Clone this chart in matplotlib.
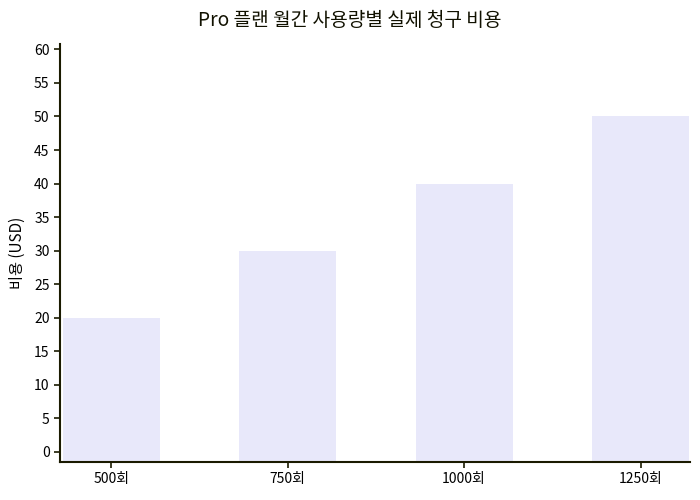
import matplotlib
matplotlib.use("Agg")
import matplotlib.pyplot as plt

plt.rcParams['font.family'] = ['Noto Sans CJK KR', 'DejaVu Sans']

categories = ["500회", "750회", "1000회", "1250회"]
values = [20, 30, 40, 50]
yticks = list(range(0, 61, 5))

ymin, ymax = -1.5, 60.8
fig = plt.figure(figsize=(7, 5), dpi=100)
ax = fig.add_axes([60/700, 1-462/500, 630/700, (462-44)/500])
x = list(range(len(categories)))
ax.bar(x, [v - ymin for v in values], bottom=ymin, width=0.55, color="#E8E8FA")
ax.set_xticks(x)
ax.set_xticklabels(categories, fontsize=10)
ax.set_yticks(yticks)
ax.tick_params(axis='y', labelsize=10)
ax.set_ylim(ymin, ymax)
ax.set_xlim(-0.29, 3.28)
for s in ["top", "right"]:
    ax.spines[s].set_visible(False)
for s in ["left", "bottom"]:
    ax.spines[s].set_color("#1a1a00")
    ax.spines[s].set_linewidth(1.5)
ax.tick_params(colors="#1a1a00", width=1.2, length=4)
ax.tick_params(labelcolor="black")
ax.set_ylabel("비용 (USD)", fontsize=11, labelpad=6)
fig.suptitle("Pro 플랜 월간 사용량별 실제 청구 비용", fontsize=13.8, y=0.98, color="#111100")
fig.savefig("out.png", dpi=100)
